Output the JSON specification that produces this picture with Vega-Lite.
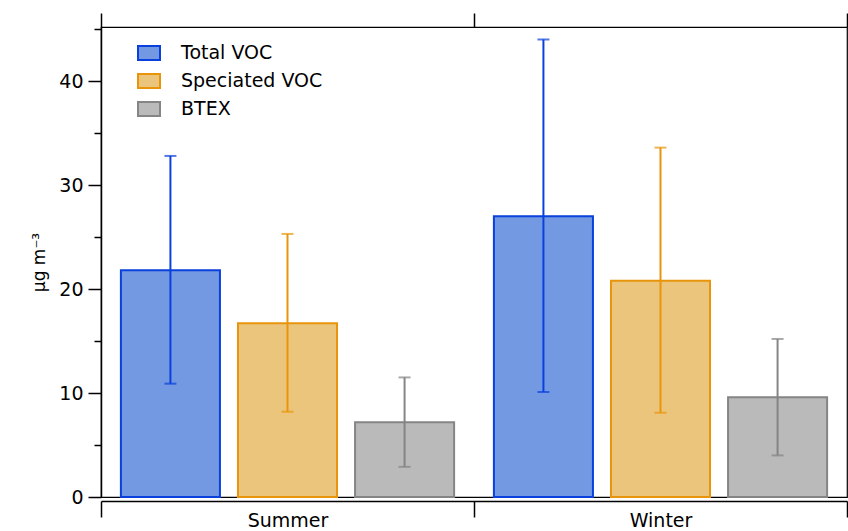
{
  "$schema": "https://vega.github.io/schema/vega-lite/v6.json",
  "width": 746,
  "height": 470,
  "autosize": "none",
  "padding": {"left": 101, "top": 27, "right": 1, "bottom": 34},
  "background": "white",
  "config": {
    "font": "DejaVu Sans",
    "view": {"stroke": "black", "strokeWidth": 1.2},
    "axis": {"labelFont": "DejaVu Sans", "titleFont": "DejaVu Sans", "labelColor": "black", "titleColor": "black", "domainColor": "black", "tickColor": "black", "grid": false},
    "legend": {"labelFont": "DejaVu Sans", "labelFontSize": 19, "labelColor": "black"}
  },
  "data": {
    "values": [
      {"season": "Summer", "series": "Total VOC", "mean": 21.8, "lo": 10.9, "hi": 32.8},
      {"season": "Summer", "series": "Speciated VOC", "mean": 16.7, "lo": 8.2, "hi": 25.3},
      {"season": "Summer", "series": "BTEX", "mean": 7.2, "lo": 2.9, "hi": 11.5},
      {"season": "Winter", "series": "Total VOC", "mean": 27.0, "lo": 10.1, "hi": 44.0},
      {"season": "Winter", "series": "Speciated VOC", "mean": 20.8, "lo": 8.1, "hi": 33.6},
      {"season": "Winter", "series": "BTEX", "mean": 9.6, "lo": 4.0, "hi": 15.2}
    ]
  },
  "resolve": {"axis": {"x": "independent"}},
  "layer": [
    {
      "mark": {"type": "bar", "strokeWidth": 2},
      "encoding": {
        "x": {
          "field": "season", "type": "nominal",
          "scale": {"domain": ["Summer", "Winter"], "paddingInner": 0, "paddingOuter": 0},
          "axis": {"orient": "bottom", "title": null, "labelAngle": 0, "labelFontSize": 19, "tickBand": "extent", "tickSize": 16, "tickWidth": 1.5, "domainWidth": 1.5, "offset": 4, "labelPadding": -6}
        },
        "xOffset": {
          "field": "series", "type": "nominal",
          "scale": {"domain": ["Total VOC", "Speciated VOC", "BTEX"], "paddingInner": 0.154, "paddingOuter": 0.17}
        },
        "y": {
          "field": "mean", "type": "quantitative", "title": "µg m⁻³",
          "scale": {"domain": [0, 45.2], "nice": false, "zero": true},
          "axis": {
            "values": [0, 5, 10, 15, 20, 25, 30, 35, 40, 45],
            "labelExpr": "datum.value % 10 === 0 ? datum.label : ''",
            "tickSize": {"condition": {"test": "datum.value % 10 === 0", "value": 13}, "value": 7},
            "tickWidth": 1.5, "domainWidth": 1.5,
            "labelFontSize": 19, "labelPadding": 5,
            "titleFontSize": 17, "titleFontWeight": "normal", "titlePadding": 10
          }
        },
        "fill": {
          "field": "series", "type": "nominal",
          "scale": {"domain": ["Total VOC", "Speciated VOC", "BTEX"], "range": ["#7399e3", "#ebc57c", "#bababa"]},
          "legend": {"orient": "none", "legendX": 36, "legendY": 14, "title": null, "symbolType": "M-1,-0.64H1V0.64H-1Z", "symbolSize": 484, "symbolStrokeWidth": 2, "rowPadding": 4, "labelOffset": 20, "symbolOpacity": 1}
        },
        "stroke": {
          "field": "series", "type": "nominal",
          "scale": {"domain": ["Total VOC", "Speciated VOC", "BTEX"], "range": ["#0a40dc", "#e8950c", "#858585"]},
          "legend": {"orient": "none", "legendX": 36, "legendY": 14, "title": null, "symbolType": "M-1,-0.64H1V0.64H-1Z", "symbolSize": 484, "symbolStrokeWidth": 2, "rowPadding": 4, "labelOffset": 20, "symbolOpacity": 1}
        }
      }
    },
    {
      "mark": {"type": "rule", "strokeWidth": 2},
      "encoding": {
        "x": {
          "field": "season", "type": "nominal",
          "axis": {"orient": "top", "title": null, "labels": false, "domain": false, "tickBand": "extent", "tickSize": 14, "tickWidth": 1.5}
        },
        "xOffset": {"field": "series", "type": "nominal"},
        "y": {"field": "lo", "type": "quantitative", "title": "µg m⁻³"},
        "y2": {"field": "hi"},
        "stroke": {"field": "series", "type": "nominal"}
      }
    },
    {
      "mark": {"type": "tick", "size": 12, "thickness": 2},
      "encoding": {
        "x": {"field": "season", "type": "nominal", "axis": null},
        "xOffset": {"field": "series", "type": "nominal"},
        "y": {"field": "lo", "type": "quantitative", "title": "µg m⁻³"},
        "color": {"field": "series", "type": "nominal", "scale": {"domain": ["Total VOC", "Speciated VOC", "BTEX"], "range": ["#0a40dc", "#e8950c", "#858585"]}, "legend": null}
      }
    },
    {
      "mark": {"type": "tick", "size": 12, "thickness": 2},
      "encoding": {
        "x": {"field": "season", "type": "nominal", "axis": null},
        "xOffset": {"field": "series", "type": "nominal"},
        "y": {"field": "hi", "type": "quantitative", "title": "µg m⁻³"},
        "color": {"field": "series", "type": "nominal", "legend": null}
      }
    }
  ]
}
